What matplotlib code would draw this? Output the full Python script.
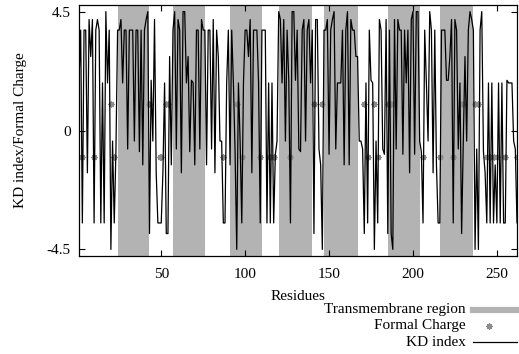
import matplotlib.pyplot as plt
from matplotlib.lines import Line2D

# séquence, un acide aminé par résidu
sequence = (
    "MLELLPVFVELVLNAQIALRGES"
    "LLVALLTLLLGLLSLYLVIK"
    "MGVPNDEPAKKFY"
    "LITVLPIIAFSMAYLLTVLL"
    "YLLTVPLFGGEQAL"
    "YLASRAGEALLFVPLLLAEL"
    "LLQAEADWG"
    "IVAVGLMEIIMLTSLVGLVAL"
    "KVVTYR"
    "LLVWLVITAAALYLIYVLLFF"
    "GGTKAELMARGDVLTWV"
    "KLKRVTVLLWLALPVIWIIG"
    "SELAGILPLYN"
    "ELLLMMFVDVLTAKGFGLIVL"
    "RTRLISPEAEADYEANAQEMAAAGTE"
)

# échelle de Kyte-Doolittle
echelle_kd = {
    "I": 4.5, "V": 4.2, "L": 3.8, "F": 2.8, "C": 2.5, "M": 1.9, "A": 1.8,
    "G": -0.4, "T": -0.7, "S": -0.8, "W": -0.9, "Y": -1.3, "P": -1.6,
    "H": -3.2, "E": -3.5, "Q": -3.5, "D": -3.5, "N": -3.5, "K": -3.9,
    "R": -4.5,
}
charges_aa = {"K": 1, "R": 1, "D": -1, "E": -1}

# régions transmembranaires (début, fin)
debuts_tm = [24, 57, 91, 120, 147, 185, 216]
fins_tm = [43, 76, 110, 140, 167, 204, 236]

ticks_x = [50, 100, 150, 200, 250]
ticks_y = [-4.5, 0, 4.5]

gris_tm = "#b3b3b3"
gris_charge = "#8c8c8c"


def main():
    plt.rcParams["font.family"] = ["Liberation Serif", "DejaVu Serif"]
    plt.rcParams["font.size"] = 11

    residus = list(range(1, len(sequence) + 1))
    kd = [echelle_kd[a] for a in sequence]
    pos_charge = [r for r, a in zip(residus, sequence) if a in charges_aa]
    val_charge = [charges_aa[a] for a in sequence if a in charges_aa]

    fig = plt.figure(figsize=(5.19, 3.54), dpi=100)
    ax = fig.add_axes([79 / 519, 1 - 256 / 354, 438 / 519, 251 / 354])

    for d, f in zip(debuts_tm, fins_tm):
        ax.axvspan(d, f, color=gris_tm, lw=0, zorder=1)

    ax.plot(pos_charge, val_charge, linestyle="none", marker=(8, 2, 0),
            markersize=4.5, markeredgewidth=0.9, color=gris_charge, zorder=2)
    ax.plot(residus, kd, color="black", linewidth=0.9, zorder=3)

    ax.set_xlim(1, 262)
    ax.set_ylim(-4.75, 4.75)
    ax.set_xticks(ticks_x)
    ax.set_yticks(ticks_y)
    ax.set_yticklabels(["-4.5", "0", "4.5"])
    ax.tick_params(direction="in", length=4, width=0.8, top=True, right=True)
    ax.tick_params(axis="x", pad=9)
    ax.tick_params(axis="y", pad=6)
    for s in ax.spines.values():
        s.set_linewidth(0.9)

    ax.set_xlabel("Residues", labelpad=6)
    ax.set_ylabel("KD index/Formal Charge", labelpad=14)

    # légende dessinée à la main, comme gnuplot
    xt = 466 / 519
    x0, x1 = 473 / 519, 517 / 519
    lignes = [1 - 310 / 354, 1 - 326 / 354, 1 - 342 / 354]
    fig.text(xt, lignes[0], "Transmembrane region", ha="right", va="center")
    fig.add_artist(Line2D([x0, x1], [lignes[0]] * 2, transform=fig.transFigure,
                          color=gris_tm, lw=4.5))
    fig.text(xt, lignes[1], "Formal Charge", ha="right", va="center")
    fig.add_artist(Line2D([489 / 519], [lignes[1]], transform=fig.transFigure,
                          marker=(8, 2, 0), markersize=4.5, markeredgewidth=0.9,
                          color=gris_charge, linestyle="none"))
    fig.text(xt, lignes[2], "KD index", ha="right", va="center")
    fig.add_artist(Line2D([x0, x1], [lignes[2]] * 2, transform=fig.transFigure,
                          color="black", lw=0.9))

    fig.savefig("out.png", dpi=100)


if __name__ == "__main__":
    main()
